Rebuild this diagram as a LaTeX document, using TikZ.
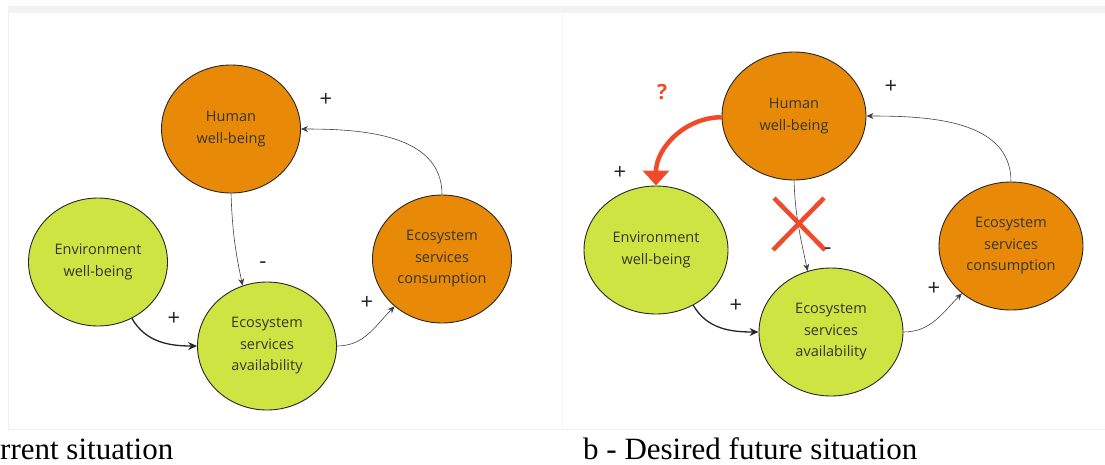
\documentclass[tikz,border=0pt]{standalone}
\usepackage{fontspec}
\setmainfont{Open Sans}
\newfontfamily\capfont{Liberation Serif}
\usepackage{tikz}
\usetikzlibrary{shapes.geometric,arrows.meta}
\definecolor{hworange}{HTML}{E88A08}
\definecolor{envgreen}{HTML}{CEE443}
\definecolor{alertred}{HTML}{EF4B2B}
\definecolor{inktext}{HTML}{363628}

\begin{document}
\begin{tikzpicture}[x=1pt, y=-1pt,
        factor/.style={ellipse, draw=black!85, line width=0.9pt, minimum width=139pt, minimum height=128pt,
            inner sep=0pt, align=center, text=inktext, font=\fontsize{14.5}{21.5}\selectfont},
        wide/.style={minimum width=144pt},
        orangef/.style={factor, fill=hworange},
        greenf/.style={factor, fill=envgreen},
        link/.style={draw=black!75, line width=0.6pt, -{Stealth[length=7pt, width=6pt]}},
        strong/.style={draw=black!85, line width=1.3pt, -{Stealth[length=9pt, width=8pt]}},
        sign/.style={inner sep=0pt, text=black!85, font=\fontsize{22}{22}\selectfont},
        qarrow/.style={draw=alertred, line width=4.5pt, -{Triangle[length=15pt, width=26pt]}}
    ]
        \useasboundingbox (0,0) rectangle (1105,464);
        \fill[black!5] (8,6) rectangle (1105,13);
        \draw[black!6, line width=1pt] (8.5,13) -- (8.5,429.5) -- (1105,429.5);
        \draw[black!4, line width=1pt] (562,13) -- (562,429.5);

        \node[orangef] (hw) at (231, 129) {Human\\well-being};
        \node[greenf] (ew) at (98, 262) {Environment\\well-being};
        \node[greenf] (esa) at (267, 346) {Ecosystem\\services\\availability};
        \node[orangef] (esc) at (442, 259) {Ecosystem\\services\\consumption};

        \draw[link] (hw.south) to[out=-88, in=102] (esa.112);
        \draw[strong] (ew.-59) to[out=-60, in=180] (esa.west);
        \draw[link] (esa.east) to[out=0, in=225] (esc.225);
        \draw[link] (esc.north) to[out=90, in=0] (hw.east);

        \node[sign] (p1) at (326, 100) {+};
        \node[sign] (m1) at (263, 265) {-};
        \node[sign] (p2) at (174, 319) {+};
        \node[sign] (p3) at (367, 303) {+};

        \node[orangef, wide] (hw2) at (794, 116) {Human\\well-being};
        \node[greenf, wide] (ew2) at (656, 250) {Environment\\well-being};
        \node[greenf, wide] (esa2) at (831, 332) {Ecosystem\\services\\availability};
        \node[orangef, wide] (esc2) at (1011, 246) {Ecosystem\\services\\consumption};

        \draw[link] (hw2.south) to[out=-88, in=102] (esa2.111);
        \draw[strong] (ew2.-56) to[out=-60, in=180] (esa2.west);
        \draw[link] (esa2.east) to[out=0, in=225] (esc2.224);
        \draw[link] (esc2.north) to[out=90, in=0] (hw2.east);
        \draw[qarrow] (hw2.181) to[out=180, in=90] (ew2.north);

        \coordinate (x1) at (774, 198);
        \coordinate (x2) at (825, 250);
        \coordinate (x3) at (773, 250);
        \coordinate (x4) at (824, 198);
        \draw[alertred, line width=4.5pt] (x1) -- (x2) (x3) -- (x4);

        \node[inner sep=0pt, text=alertred, font=\fontsize{21}{21}\bfseries] (q) at (662, 92) {?};
        \node[sign] (p4) at (620, 173) {+};
        \node[sign] (p5) at (891, 87) {+};
        \node[sign] (m2) at (828, 251) {-};
        \node[sign] (p6) at (736, 306) {+};
        \node[sign] (p7) at (934, 289) {+};

        \node[anchor=base west, inner sep=0pt, font=\capfont\fontsize{31}{31}\selectfont] (capa) at (0, 459) {rrent situation};
        \node[anchor=base west, inner sep=0pt, font=\capfont\fontsize{31}{31}\selectfont] (capb) at (583, 459) {b - Desired future situation};
    \end{tikzpicture}
\end{document}
